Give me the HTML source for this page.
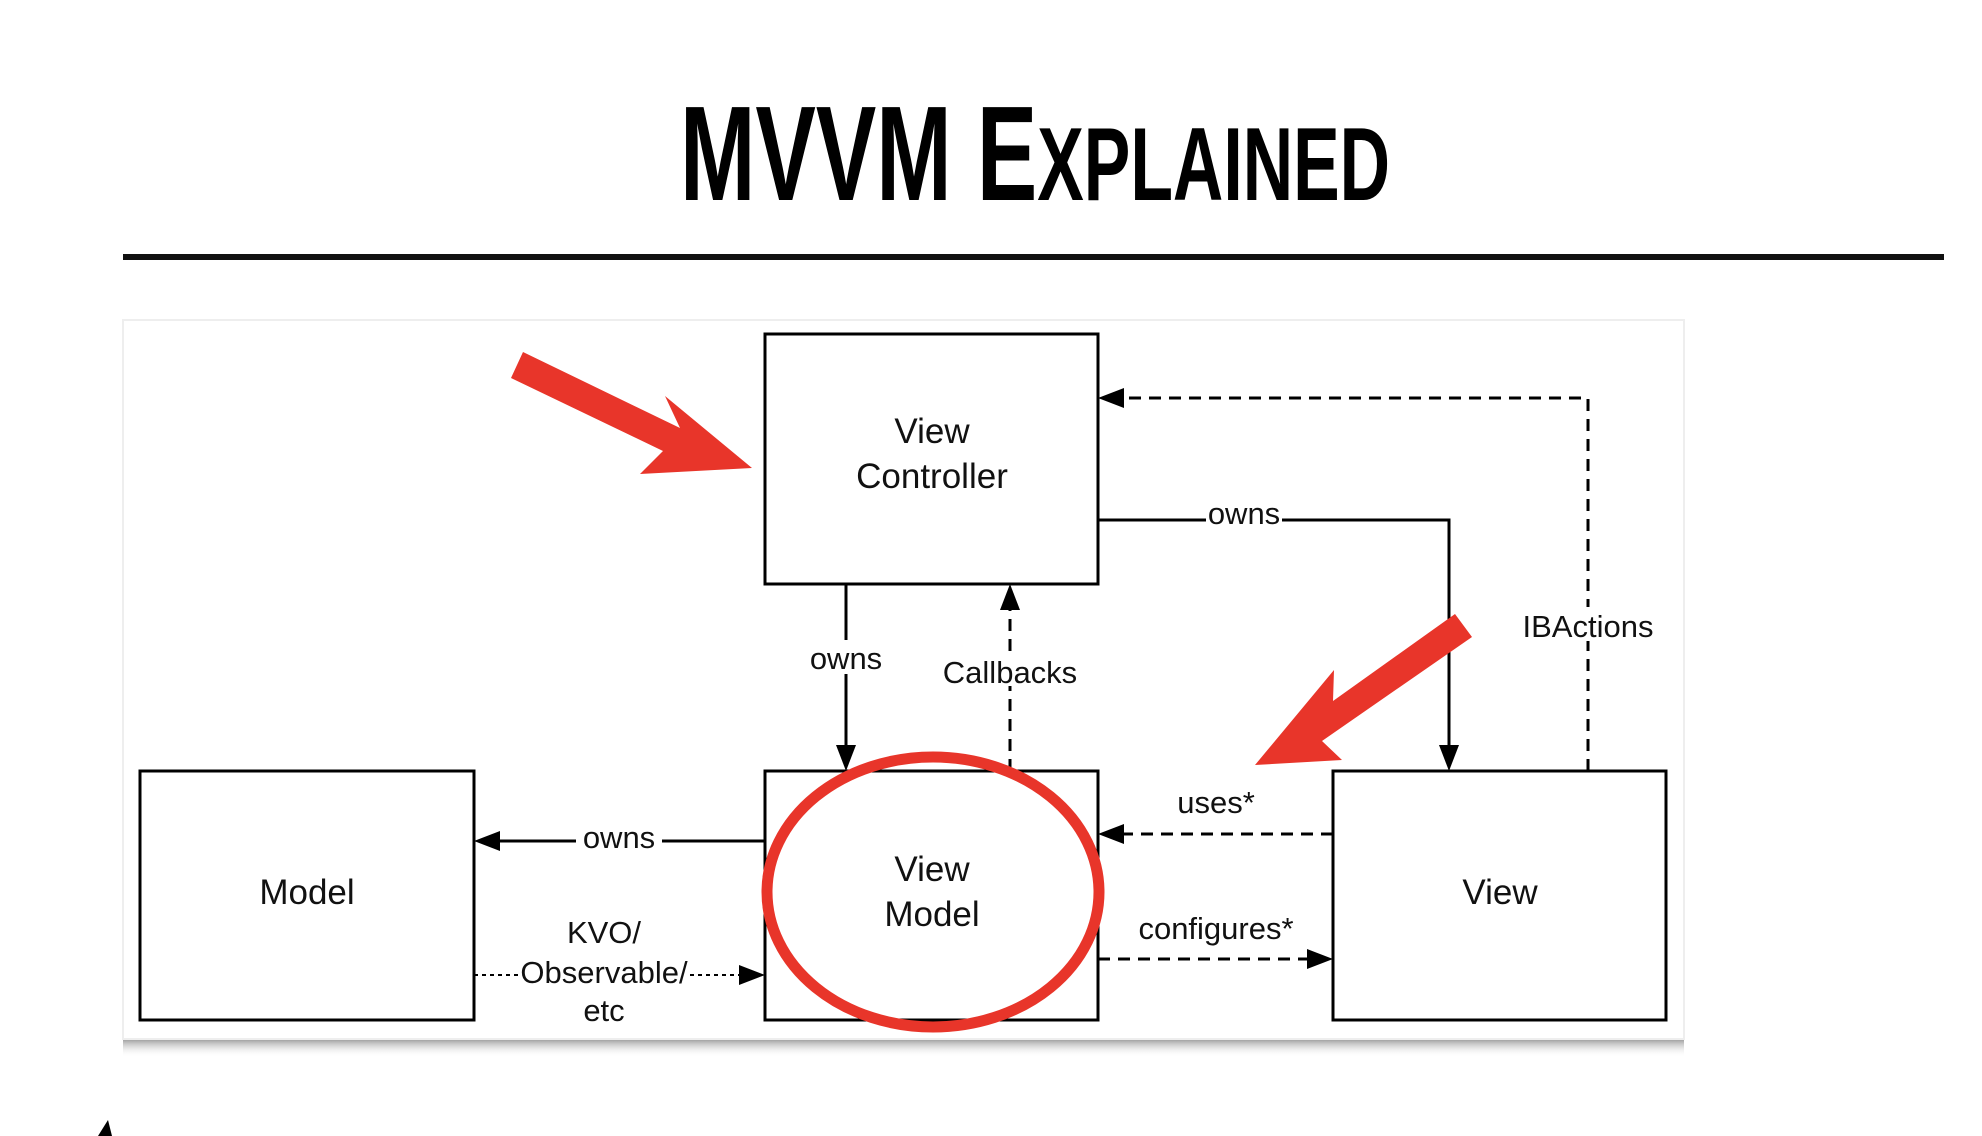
<!DOCTYPE html>
<html><head><meta charset="utf-8"><style>
html,body{margin:0;padding:0;background:#fff;}
svg{display:block;}
</style></head><body>
<svg width="1982" height="1136" viewBox="0 0 1982 1136" xmlns="http://www.w3.org/2000/svg" font-family="Liberation Sans, sans-serif">
<defs>
<linearGradient id="sh" x1="0" y1="0" x2="0" y2="1"><stop offset="0" stop-color="#999"/><stop offset="1" stop-color="#fff" stop-opacity="0"/></linearGradient>
</defs>
<text x="680" y="200" font-size="135" font-weight="bold" textLength="710" lengthAdjust="spacingAndGlyphs">MVVM E<tspan font-size="104">XPLAINED</tspan></text>
<rect x="123" y="254" width="1821" height="6" fill="#111"/>
<rect x="123" y="1039" width="1561" height="18" fill="url(#sh)"/>
<rect x="123" y="320" width="1561" height="719" fill="#fff" stroke="#eee" stroke-width="2"/>
<g fill="none" stroke="#000" stroke-width="3">
<rect x="765" y="334" width="333" height="250"/>
<rect x="765" y="771" width="333" height="249"/>
<rect x="140" y="771" width="334" height="249"/>
<rect x="1333" y="771" width="333" height="249"/>
<line x1="846" y1="584" x2="846" y2="745"/>
<polyline points="1098,520 1449,520 1449,745"/>
<line x1="765" y1="841" x2="500" y2="841"/>
<g stroke-dasharray="12,8">
<line x1="1010" y1="771" x2="1010" y2="610"/>
<polyline points="1588,771 1588,398 1124,398"/>
<line x1="1333" y1="834" x2="1124" y2="834"/>
<line x1="1098" y1="959" x2="1307" y2="959"/>
</g>
<line x1="474" y1="975" x2="739" y2="975" stroke-width="2" stroke-dasharray="4,4"/>
</g>
<g fill="#000">
<polygon points="846,771 836,745 856,745"/>
<polygon points="1449,771 1439,745 1459,745"/>
<polygon points="474,841 500,831 500,851"/>
<polygon points="1010,584 1000,610 1020,610"/>
<polygon points="1098,398 1124,388 1124,408"/>
<polygon points="1098,834 1124,824 1124,844"/>
<polygon points="1333,959 1307,949 1307,969"/>
<polygon points="765,975 739,965 739,985"/>
</g>
<g fill="#fff">
<rect x="806" y="640" width="80" height="34"/>
<rect x="938" y="652" width="144" height="34"/>
<rect x="1206" y="496" width="76" height="30"/>
<rect x="1522" y="607" width="132" height="34"/>
<rect x="576" y="818" width="86" height="34"/>
<rect x="518" y="955" width="172" height="36"/>
</g>
<g font-size="35" fill="#111" text-anchor="middle">
<text x="932" y="443">View</text>
<text x="932" y="488">Controller</text>
<text x="932" y="881">View</text>
<text x="932" y="926">Model</text>
<text x="307" y="904">Model</text>
<text x="1500" y="904">View</text>
</g>
<g font-size="31" fill="#111" text-anchor="middle">
<text x="846" y="669">owns</text>
<text x="1010" y="683">Callbacks</text>
<text x="1244" y="524">owns</text>
<text x="1588" y="637">IBActions</text>
<text x="1216" y="813">uses*</text>
<text x="1216" y="939">configures*</text>
<text x="619" y="848">owns</text>
<text x="604" y="943">KVO/</text>
<text x="604" y="983">Observable/</text>
<text x="604" y="1021">etc</text>
</g>
<g fill="#e8352a">
<polygon points="523,352 680,428 665,396 752,468 640,474 663,451 511,378"/>
<polygon points="1455,614 1333,701 1334,670 1255,765 1342,760 1322,741 1472,637"/>
</g>
<ellipse cx="933" cy="892" rx="166" ry="135" fill="none" stroke="#e8352a" stroke-width="11"/>
<polygon points="108,1120 112,1136 98,1136" fill="#000"/>
</svg>
</body></html>
